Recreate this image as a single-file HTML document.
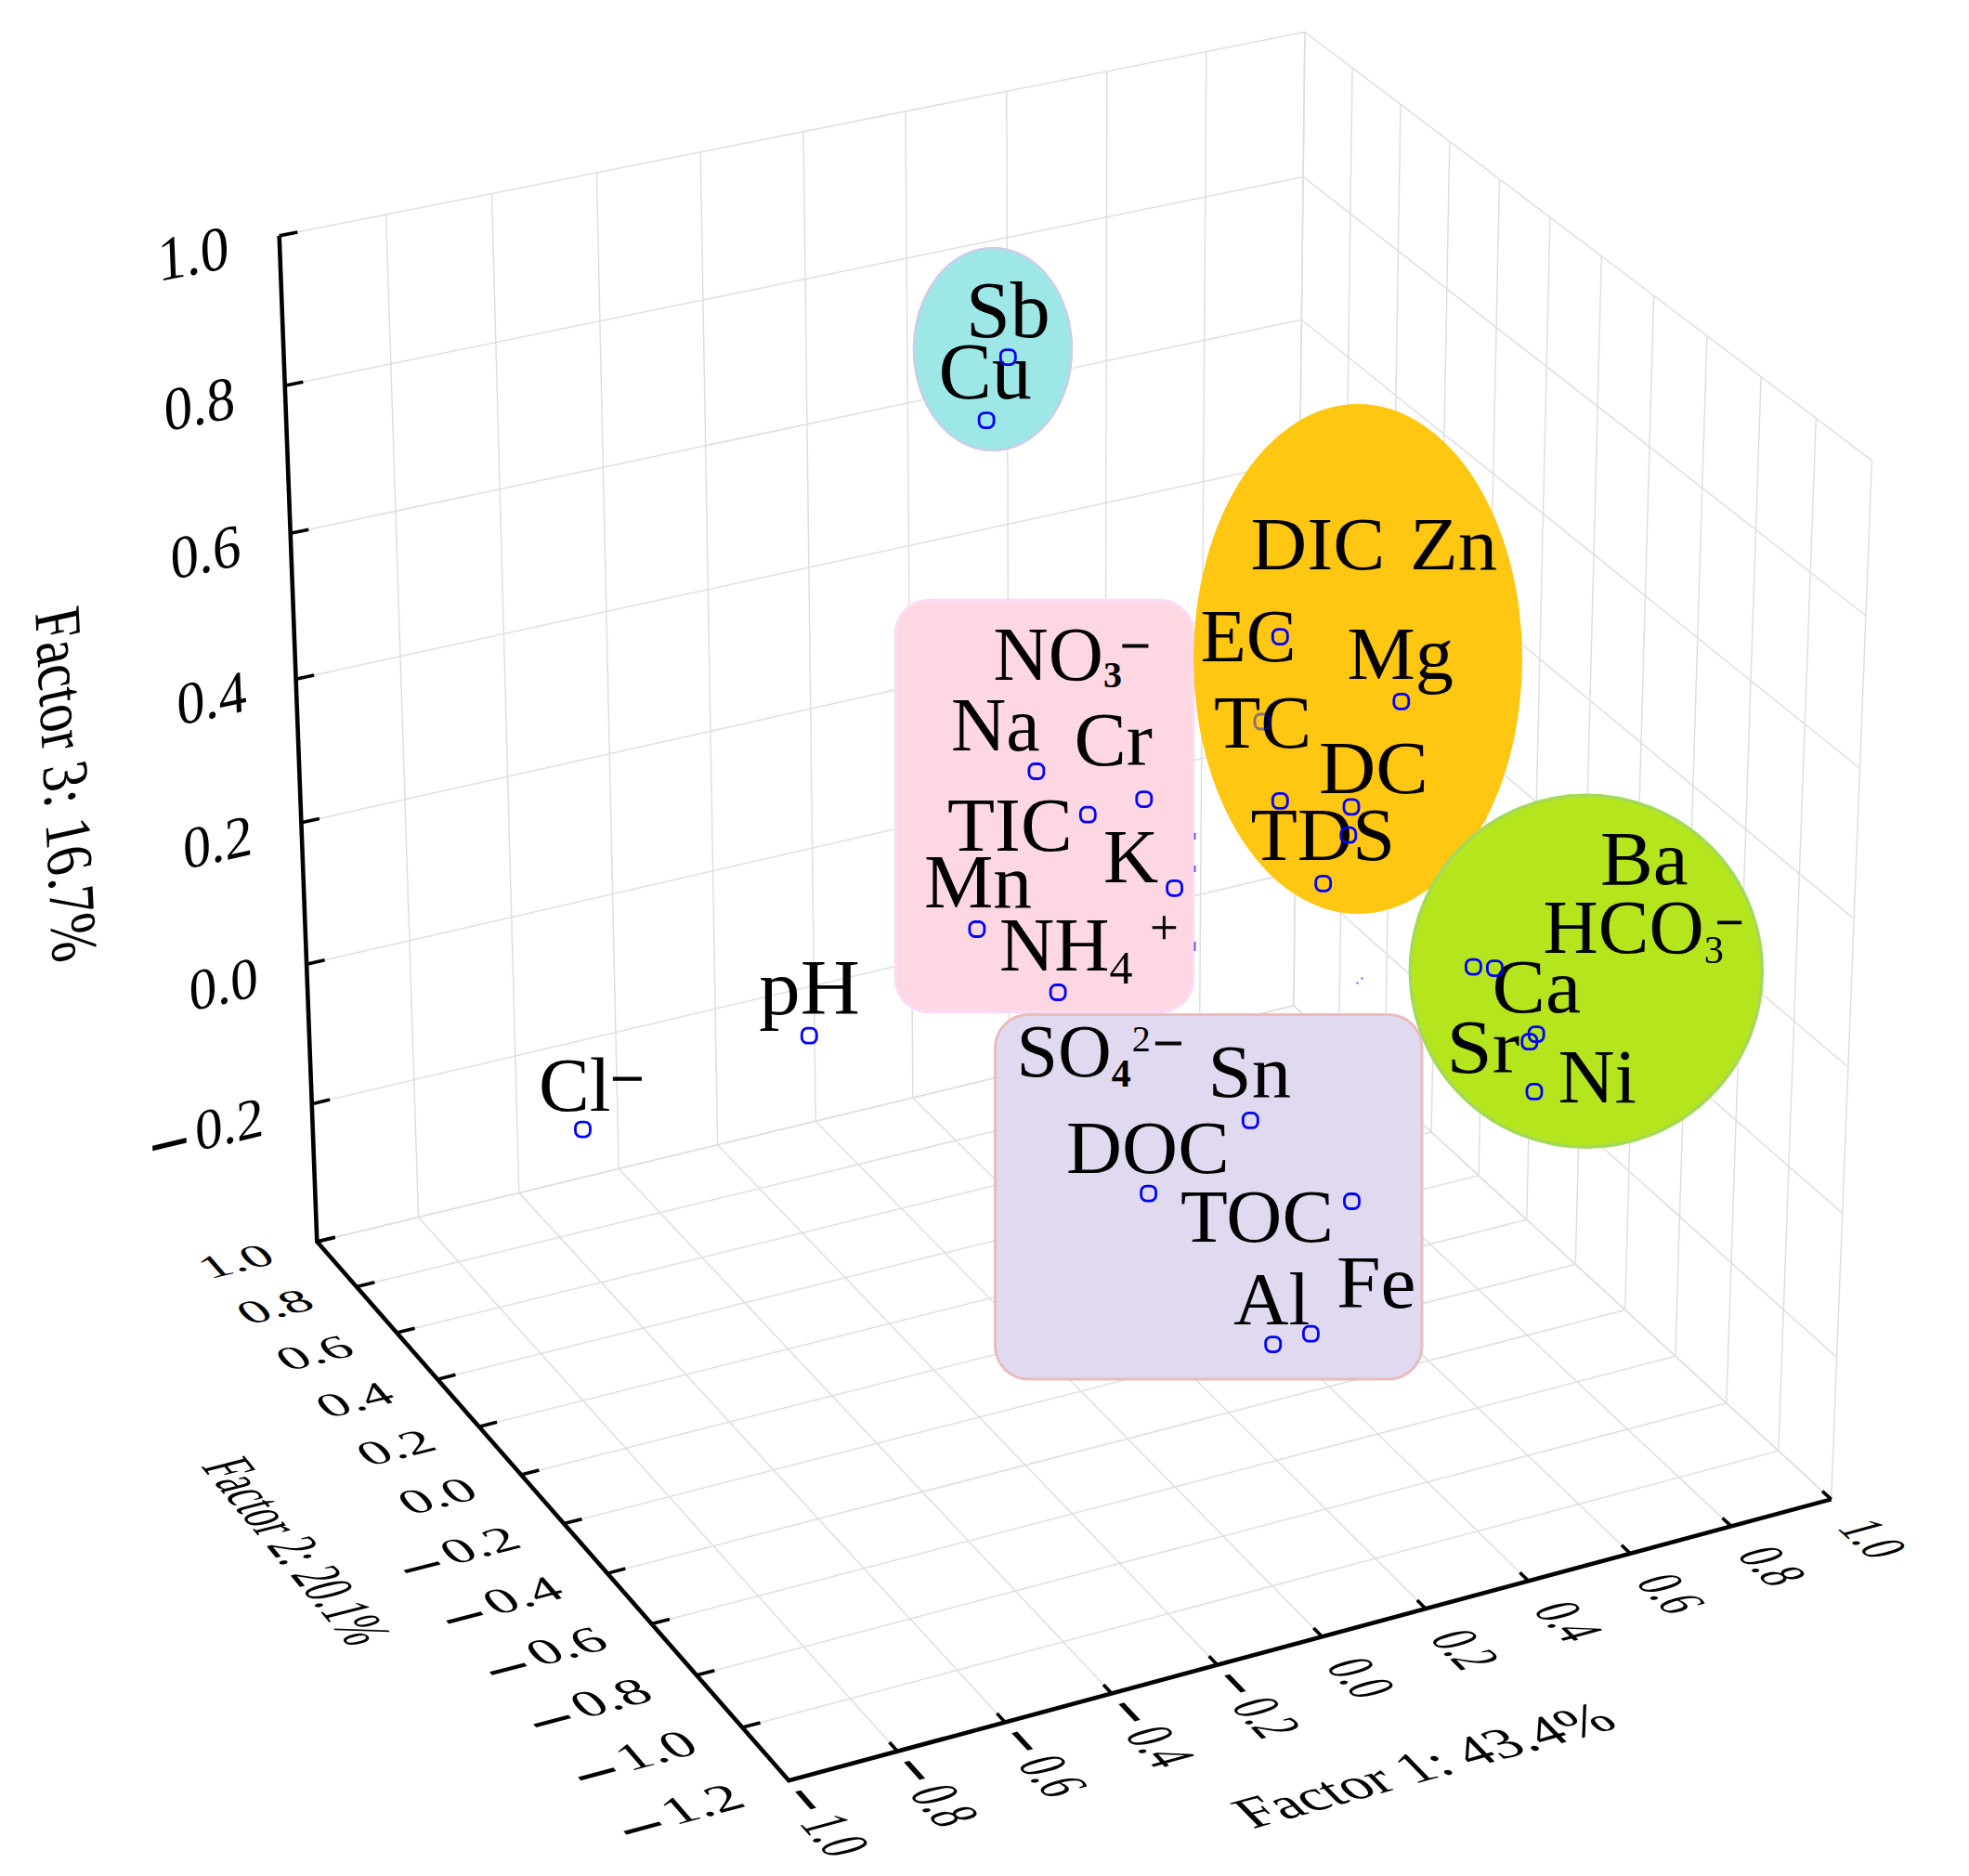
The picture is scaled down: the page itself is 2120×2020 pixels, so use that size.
<!DOCTYPE html>
<html><head><meta charset="utf-8"><title>Factor loadings 3D plot</title>
<style>
html,body{margin:0;padding:0;background:#fff}
svg{display:block}
.g{stroke:#dfdfdf;stroke-width:1.5;fill:none}
.ax{stroke:#000;stroke-width:4.6;fill:none;stroke-linejoin:miter}
.tk{stroke:#000;stroke-width:3.6}
.mk{fill:none;stroke:#0000ff;stroke-width:2.8}
text{font-family:"Liberation Serif","Times New Roman",serif;fill:#000}
.t3{font-size:100px}
.sg{stroke:#000;stroke-width:1.1}
.sp{stroke:#000;stroke-width:0.4}
</style></head><body>
<svg width="2120" height="2020" viewBox="0 0 2120 2020">
<rect width="2120" height="2020" fill="#fff"/>
<g class="grid">
<line class="g" x1="341.3" y1="1336.94" x2="300.69" y2="253.86"/>
<line class="g" x1="849.3" y1="1917.28" x2="341.3" y2="1336.94"/>
<line class="g" x1="450.52" y1="1310.54" x2="415.6" y2="231.03"/>
<line class="g" x1="966.28" y1="1885.71" x2="450.52" y2="1310.54"/>
<line class="g" x1="558.82" y1="1284.38" x2="529.48" y2="208.41"/>
<line class="g" x1="1082.17" y1="1854.43" x2="558.82" y2="1284.38"/>
<line class="g" x1="666.19" y1="1258.43" x2="642.34" y2="185.99"/>
<line class="g" x1="1196.99" y1="1823.44" x2="666.19" y2="1258.43"/>
<line class="g" x1="772.64" y1="1232.71" x2="754.19" y2="163.77"/>
<line class="g" x1="1310.73" y1="1792.74" x2="772.64" y2="1232.71"/>
<line class="g" x1="878.2" y1="1207.2" x2="865.05" y2="141.75"/>
<line class="g" x1="1423.43" y1="1762.32" x2="878.2" y2="1207.2"/>
<line class="g" x1="982.86" y1="1181.91" x2="974.93" y2="119.92"/>
<line class="g" x1="1535.09" y1="1732.18" x2="982.86" y2="1181.91"/>
<line class="g" x1="1086.65" y1="1156.83" x2="1083.84" y2="98.28"/>
<line class="g" x1="1645.73" y1="1702.32" x2="1086.65" y2="1156.83"/>
<line class="g" x1="1189.57" y1="1131.96" x2="1191.8" y2="76.84"/>
<line class="g" x1="1755.36" y1="1672.73" x2="1189.57" y2="1131.96"/>
<line class="g" x1="1291.64" y1="1107.29" x2="1298.81" y2="55.58"/>
<line class="g" x1="1864" y1="1643.41" x2="1291.64" y2="1107.29"/>
<line class="g" x1="1392.86" y1="1082.84" x2="1404.9" y2="34.5"/>
<line class="g" x1="1971.65" y1="1614.35" x2="1392.86" y2="1082.84"/>
<line class="g" x1="1971.65" y1="1614.35" x2="2015.46" y2="495.78"/>
<line class="g" x1="849.3" y1="1917.28" x2="1971.65" y2="1614.35"/>
<line class="g" x1="1914.81" y1="1562.15" x2="1955.26" y2="450.3"/>
<line class="g" x1="799.23" y1="1860.09" x2="1914.81" y2="1562.15"/>
<line class="g" x1="1858.87" y1="1510.78" x2="1896.07" y2="405.58"/>
<line class="g" x1="750" y1="1803.84" x2="1858.87" y2="1510.78"/>
<line class="g" x1="1803.81" y1="1460.22" x2="1837.87" y2="361.61"/>
<line class="g" x1="701.58" y1="1748.53" x2="1803.81" y2="1460.22"/>
<line class="g" x1="1749.62" y1="1410.46" x2="1780.62" y2="318.36"/>
<line class="g" x1="653.96" y1="1694.13" x2="1749.62" y2="1410.46"/>
<line class="g" x1="1696.27" y1="1361.47" x2="1724.31" y2="275.81"/>
<line class="g" x1="607.11" y1="1640.61" x2="1696.27" y2="1361.47"/>
<line class="g" x1="1643.75" y1="1313.23" x2="1668.92" y2="233.96"/>
<line class="g" x1="561.02" y1="1587.95" x2="1643.75" y2="1313.23"/>
<line class="g" x1="1592.03" y1="1265.74" x2="1614.41" y2="192.79"/>
<line class="g" x1="515.67" y1="1536.14" x2="1592.03" y2="1265.74"/>
<line class="g" x1="1541.1" y1="1218.97" x2="1560.78" y2="152.27"/>
<line class="g" x1="471.04" y1="1485.15" x2="1541.1" y2="1218.97"/>
<line class="g" x1="1490.94" y1="1172.91" x2="1508" y2="112.39"/>
<line class="g" x1="427.11" y1="1434.97" x2="1490.94" y2="1172.91"/>
<line class="g" x1="1441.53" y1="1127.53" x2="1456.04" y2="73.14"/>
<line class="g" x1="383.87" y1="1385.57" x2="1441.53" y2="1127.53"/>
<line class="g" x1="1392.86" y1="1082.84" x2="1404.9" y2="34.5"/>
<line class="g" x1="341.3" y1="1336.94" x2="1392.86" y2="1082.84"/>
<line class="g" x1="341.3" y1="1336.94" x2="1392.86" y2="1082.84"/>
<line class="g" x1="1392.86" y1="1082.84" x2="1971.65" y2="1614.35"/>
<line class="g" x1="335.74" y1="1188.64" x2="1394.51" y2="939.04"/>
<line class="g" x1="1394.51" y1="939.04" x2="1977.64" y2="1461.49"/>
<line class="g" x1="330.1" y1="1038.28" x2="1396.18" y2="793.32"/>
<line class="g" x1="1396.18" y1="793.32" x2="1983.71" y2="1306.4"/>
<line class="g" x1="324.38" y1="885.8" x2="1397.88" y2="645.64"/>
<line class="g" x1="1397.88" y1="645.64" x2="1989.88" y2="1149.04"/>
<line class="g" x1="318.58" y1="731.17" x2="1399.6" y2="495.96"/>
<line class="g" x1="1399.6" y1="495.96" x2="1996.13" y2="989.35"/>
<line class="g" x1="312.7" y1="574.34" x2="1401.34" y2="344.24"/>
<line class="g" x1="1401.34" y1="344.24" x2="2002.48" y2="827.27"/>
<line class="g" x1="306.74" y1="415.25" x2="1403.11" y2="190.43"/>
<line class="g" x1="1403.11" y1="190.43" x2="2008.92" y2="662.77"/>
<line class="g" x1="300.69" y1="253.86" x2="1404.9" y2="34.5"/>
<line class="g" x1="1404.9" y1="34.5" x2="2015.46" y2="495.78"/>
</g>
<g class="axes">
<polyline class="ax" points="300.69,253.86 341.3,1336.94 849.3,1917.28 1971.65,1614.35"/>
<line class="tk" x1="341.3" y1="1336.94" x2="360.74" y2="1332.24"/>
<line class="tk" x1="335.74" y1="1188.64" x2="355.2" y2="1184.05"/>
<line class="tk" x1="330.1" y1="1038.28" x2="349.59" y2="1033.8"/>
<line class="tk" x1="324.38" y1="885.8" x2="343.9" y2="881.44"/>
<line class="tk" x1="318.58" y1="731.17" x2="338.13" y2="726.92"/>
<line class="tk" x1="312.7" y1="574.34" x2="332.27" y2="570.2"/>
<line class="tk" x1="306.74" y1="415.25" x2="326.33" y2="411.23"/>
<line class="tk" x1="300.69" y1="253.86" x2="320.31" y2="249.97"/>
<line class="tk" x1="799.23" y1="1860.09" x2="818.55" y2="1854.93"/>
<line class="tk" x1="750" y1="1803.84" x2="769.34" y2="1798.73"/>
<line class="tk" x1="701.58" y1="1748.53" x2="720.93" y2="1743.47"/>
<line class="tk" x1="653.96" y1="1694.13" x2="673.32" y2="1689.11"/>
<line class="tk" x1="607.11" y1="1640.61" x2="626.49" y2="1635.64"/>
<line class="tk" x1="561.02" y1="1587.95" x2="580.41" y2="1583.03"/>
<line class="tk" x1="515.67" y1="1536.14" x2="535.07" y2="1531.27"/>
<line class="tk" x1="471.04" y1="1485.15" x2="490.44" y2="1480.33"/>
<line class="tk" x1="427.11" y1="1434.97" x2="446.53" y2="1430.19"/>
<line class="tk" x1="383.87" y1="1385.57" x2="403.3" y2="1380.83"/>
<line class="tk" x1="341.3" y1="1336.94" x2="360.74" y2="1332.24"/>
<line class="tk" x1="966.28" y1="1885.71" x2="957.61" y2="1876.03"/>
<line class="tk" x1="1082.17" y1="1854.43" x2="1073.38" y2="1844.85"/>
<line class="tk" x1="1196.99" y1="1823.44" x2="1188.08" y2="1813.96"/>
<line class="tk" x1="1310.73" y1="1792.74" x2="1301.72" y2="1783.36"/>
<line class="tk" x1="1423.43" y1="1762.32" x2="1414.32" y2="1753.05"/>
<line class="tk" x1="1535.09" y1="1732.18" x2="1525.88" y2="1723.01"/>
<line class="tk" x1="1645.73" y1="1702.32" x2="1636.42" y2="1693.24"/>
<line class="tk" x1="1755.36" y1="1672.73" x2="1745.96" y2="1663.75"/>
<line class="tk" x1="1864" y1="1643.41" x2="1854.51" y2="1634.52"/>
<line class="tk" x1="1971.65" y1="1614.35" x2="1962.08" y2="1605.56"/>
</g>
<text class="t3" text-anchor="end" transform="matrix(0.5880 -0.1386 0.0247 0.6176 284.55 1222.22)">0.2</text>
<text class="t3" text-anchor="start" stroke="#000" stroke-width="4.0" transform="matrix(0.7226 -0.1704 0.0283 0.6197 162.94 1257.57)">−</text>
<text class="t3" text-anchor="end" transform="matrix(0.5922 -0.1361 0.0250 0.6263 278.55 1071.93)">0.0</text>
<text class="t3" text-anchor="end" transform="matrix(0.5965 -0.1335 0.0254 0.6351 272.47 919.53)">0.2</text>
<text class="t3" text-anchor="end" transform="matrix(0.6009 -0.1307 0.0257 0.6442 266.30 764.97)">0.4</text>
<text class="t3" text-anchor="end" transform="matrix(0.6053 -0.1279 0.0261 0.6534 260.04 608.20)">0.6</text>
<text class="t3" text-anchor="end" transform="matrix(0.6099 -0.1251 0.0265 0.6628 253.69 449.18)">0.8</text>
<text class="t3" text-anchor="end" transform="matrix(0.6144 -0.1221 0.0269 0.6725 247.25 287.86)">1.0</text>
<text class="t3" text-anchor="middle" transform="matrix(0.0296 0.5902 -0.7051 0.1551 47.65 849.87)">Factor 3: 16.7%</text>
<text class="t3" text-anchor="end" transform="matrix(0.6328 -0.1708 0.3199 0.3696 805.67 1944.11)">1.2</text>
<text class="t3" text-anchor="start" stroke="#000" stroke-width="5.0" transform="matrix(0.7439 -0.2008 0.3145 0.3735 681.38 1986.44)">−</text>
<text class="t3" text-anchor="end" transform="matrix(0.6287 -0.1679 0.3145 0.3634 755.77 1886.46)">1.0</text>
<text class="t3" text-anchor="start" stroke="#000" stroke-width="5.0" transform="matrix(0.7391 -0.1974 0.3092 0.3671 632.24 1928.07)">−</text>
<text class="t3" text-anchor="end" transform="matrix(0.6246 -0.1651 0.3093 0.3574 706.71 1829.77)">0.8</text>
<text class="t3" text-anchor="start" stroke="#000" stroke-width="5.0" transform="matrix(0.7343 -0.1941 0.3040 0.3610 583.91 1870.69)">−</text>
<text class="t3" text-anchor="end" transform="matrix(0.6206 -0.1623 0.3042 0.3514 658.47 1774.03)">0.6</text>
<text class="t3" text-anchor="start" stroke="#000" stroke-width="5.0" transform="matrix(0.7295 -0.1908 0.2989 0.3550 536.40 1814.26)">−</text>
<text class="t3" text-anchor="end" transform="matrix(0.6167 -0.1597 0.2992 0.3457 611.02 1719.21)">0.4</text>
<text class="t3" text-anchor="start" stroke="#000" stroke-width="5.0" transform="matrix(0.7248 -0.1877 0.2940 0.3492 489.67 1758.78)">−</text>
<text class="t3" text-anchor="end" transform="matrix(0.6128 -0.1571 0.2943 0.3401 564.34 1665.28)">0.2</text>
<text class="t3" text-anchor="start" stroke="#000" stroke-width="5.0" transform="matrix(0.7202 -0.1846 0.2892 0.3435 443.72 1704.20)">−</text>
<text class="t3" text-anchor="end" transform="matrix(0.6090 -0.1545 0.2896 0.3346 518.42 1612.23)">0.0</text>
<text class="t3" text-anchor="end" transform="matrix(0.6051 -0.1520 0.2850 0.3292 473.24 1560.03)">0.2</text>
<text class="t3" text-anchor="end" transform="matrix(0.6014 -0.1496 0.2804 0.3240 428.79 1508.66)">0.4</text>
<text class="t3" text-anchor="end" transform="matrix(0.5977 -0.1472 0.2760 0.3189 385.03 1458.10)">0.6</text>
<text class="t3" text-anchor="end" transform="matrix(0.5940 -0.1449 0.2717 0.3139 341.96 1408.34)">0.8</text>
<text class="t3" text-anchor="end" transform="matrix(0.5903 -0.1427 0.2675 0.3091 299.56 1359.36)">1.0</text>
<text class="t3" text-anchor="middle" transform="matrix(0.2508 0.3046 -0.7070 0.1800 296.17 1676.12)">Factor 2: 20.1%</text>
<text class="t3" text-anchor="start" transform="matrix(0.2725 0.3113 -0.6847 0.1861 859.52 1962.85)">1.0</text>
<text class="t3" text-anchor="start" stroke="#000" stroke-width="4.0" transform="matrix(0.3294 0.3764 -0.6825 0.1845 835.53 1933.38)">−</text>
<text class="t3" text-anchor="start" transform="matrix(0.2765 0.3084 -0.6782 0.1844 977.24 1930.85)">0.8</text>
<text class="t3" text-anchor="start" stroke="#000" stroke-width="4.0" transform="matrix(0.3343 0.3728 -0.6761 0.1828 952.86 1901.65)">−</text>
<text class="t3" text-anchor="start" transform="matrix(0.2805 0.3055 -0.6719 0.1826 1093.85 1899.15)">0.6</text>
<text class="t3" text-anchor="start" stroke="#000" stroke-width="4.0" transform="matrix(0.3391 0.3694 -0.6697 0.1811 1069.09 1870.22)">−</text>
<text class="t3" text-anchor="start" transform="matrix(0.2843 0.3026 -0.6656 0.1809 1209.37 1867.75)">0.4</text>
<text class="t3" text-anchor="start" stroke="#000" stroke-width="4.0" transform="matrix(0.3438 0.3660 -0.6635 0.1794 1184.23 1839.09)">−</text>
<text class="t3" text-anchor="start" transform="matrix(0.2881 0.2998 -0.6594 0.1793 1323.80 1836.64)">0.2</text>
<text class="t3" text-anchor="start" stroke="#000" stroke-width="4.0" transform="matrix(0.3484 0.3626 -0.6574 0.1778 1298.30 1808.24)">−</text>
<text class="t3" text-anchor="start" transform="matrix(0.2908 0.2960 -0.6524 0.1770 1425.68 1794.05)">0.0</text>
<text class="t3" text-anchor="start" transform="matrix(0.2944 0.2933 -0.6464 0.1753 1537.86 1763.63)">0.2</text>
<text class="t3" text-anchor="start" transform="matrix(0.2979 0.2907 -0.6405 0.1737 1649.01 1733.48)">0.4</text>
<text class="t3" text-anchor="start" transform="matrix(0.3014 0.2880 -0.6347 0.1721 1759.14 1703.60)">0.6</text>
<text class="t3" text-anchor="start" transform="matrix(0.3047 0.2854 -0.6289 0.1706 1868.27 1674.00)">0.8</text>
<text class="t3" text-anchor="start" transform="matrix(0.3080 0.2829 -0.6232 0.1690 1976.42 1644.67)">1.0</text>
<text class="t3" text-anchor="middle" transform="matrix(0.6165 -0.1711 0.4030 0.4120 1546.58 1914.31)">Factor 1: 43.4%</text>
<ellipse cx="1069" cy="376" rx="85" ry="109" fill="#9de8e6" stroke="#c9cdea" stroke-width="2.5"/>
<rect x="964.5" y="646.5" width="320" height="443" rx="36" fill="#fdd7e2" stroke="#fcdaf3" stroke-width="3.5"/>
<ellipse cx="1462" cy="709.5" rx="177" ry="274.5" fill="#ffc612"/>
<circle cx="1707.8" cy="1045.8" r="189.5" fill="#b5e61d" stroke="#a3d95a" stroke-width="3.5"/>
<rect x="1071.5" y="1092.5" width="459.5" height="392.5" rx="36" fill="#e0d9f0" stroke="#eabcbd" stroke-width="3"/>
<text class="lb" x="1040" y="363" font-size="86">Sb</text>
<text class="lb" x="1010.5" y="429.4" font-size="86">Cu</text>
<text class="lb" x="1024" y="807.9" font-size="82">Na</text>
<text class="lb" transform="translate(1156.5 823.9) scale(1.03 1)" font-size="82">Cr</text>
<text class="lb" transform="translate(1020 915.8) scale(1.02 1)" font-size="82">TIC</text>
<text class="lb" x="1188" y="950.4" font-size="82">K</text>
<text class="lb" transform="translate(995 977.1) scale(1.02 1)" font-size="82">Mn</text>
<text class="lb" transform="translate(1346.5 613) scale(1.05 1)" font-size="80">DIC</text>
<text class="lb" transform="translate(1518 613) scale(1.06 1)" font-size="80">Zn</text>
<text class="lb" transform="translate(1292.5 712.2) scale(1.01 1)" font-size="80">EC</text>
<text class="lb" transform="translate(1450.5 731.3) scale(1.03 1)" font-size="80">Mg</text>
<text class="lb" transform="translate(1307 804.9) scale(1.03 1)" font-size="80">TC</text>
<text class="lb" transform="translate(1420 854.4) scale(1.06 1)" font-size="80">DC</text>
<text class="lb" transform="translate(1346.5 926.4) scale(1.03 1)" font-size="80">TDS</text>
<text class="lb" transform="translate(1723 952) scale(1.04 1)" font-size="82">Ba</text>
<text class="lb" transform="translate(1606.5 1089.7) scale(1.05 1)" font-size="82">Ca</text>
<text class="lb" transform="translate(1557.5 1154.6) scale(1.08 1)" font-size="82">Sr</text>
<text class="lb" transform="translate(1677.5 1187.1) scale(1.03 1)" font-size="82">Ni</text>
<text class="lb" transform="translate(1300.5 1180.5) scale(1.06 1)" font-size="80">Sn</text>
<text class="lb" transform="translate(1148 1263) scale(1.04 1)" font-size="80">DOC</text>
<text class="lb" transform="translate(1271 1336.6) scale(1.04 1)" font-size="80">TOC</text>
<text class="lb" transform="translate(1439 1407.7) scale(1.07 1)" font-size="80">Fe</text>
<text class="lb" transform="translate(1328 1425.5) scale(1.03 1)" font-size="80">Al</text>
<text class="lb" transform="translate(817.3 1092.2) scale(1.045 1)" font-size="85">pH</text>
<text class="lb" x="1069.5" y="731.9" font-size="82">NO<tspan font-size="40" font-weight="bold" dy="8">3</tspan></text><text class="sg" x="1206.1" y="715.4" font-size="58">−</text>
<text class="lb" x="1076" y="1045" font-size="82">NH<tspan font-size="50" dy="14">4</tspan></text><text class="sp" x="1238.3" y="1016.3" font-size="53.8">+</text>
<text class="lb" x="1661.5" y="1025.9" font-size="82">HCO<tspan font-size="42" dy="11">3</tspan></text><text class="sg" x="1846.8" y="1011.4" font-size="53.8">−</text>
<text class="lb" x="1094.5" y="1158.9" font-size="80">SO<tspan font-size="42" font-weight="bold" dy="11.5">4</tspan><tspan font-size="40" dy="-38" dx="1">2</tspan></text><text class="sg" x="1241.4" y="1142.6" font-size="58">−</text>
<text class="lb" x="580" y="1196.2" font-size="82">Cl</text><text class="sg" x="657.3" y="1182.7" font-size="64.5">−</text>
<rect class="mk" x="1077.3" y="376.6" width="16" height="16" rx="6"/>
<rect class="mk" x="1054.1" y="444.6" width="16" height="16" rx="6"/>
<rect class="mk" x="1107.9" y="822.5" width="16" height="16" rx="6"/>
<rect class="mk" x="1223.8" y="852.6" width="16" height="16" rx="6"/>
<rect class="mk" x="1163.3" y="869.2" width="16" height="16" rx="6"/>
<rect class="mk" x="1256.6" y="948.3" width="16" height="16" rx="6"/>
<rect class="mk" x="1043.9" y="992.5" width="16" height="16" rx="6"/>
<rect class="mk" x="1131.1" y="1060.5" width="16" height="16" rx="6"/>
<rect class="mk" x="1370.3" y="677.6" width="16" height="16" rx="6"/>
<rect class="mk" x="1500.8" y="747.3" width="16" height="16" rx="6"/>
<rect class="mk" x="1370.3" y="854.4" width="16" height="16" rx="6"/>
<rect class="mk" x="1447" y="860.8" width="16" height="16" rx="6"/>
<rect class="mk" x="1443.8" y="891.2" width="16" height="16" rx="6"/>
<rect class="mk" x="1416.7" y="943.3" width="16" height="16" rx="6"/>
<rect class="mk" x="1578.4" y="1033.1" width="16" height="16" rx="6"/>
<rect class="mk" x="1601.4" y="1034.6" width="16" height="16" rx="6"/>
<rect class="mk" x="1646.2" y="1105.6" width="16" height="16" rx="6"/>
<rect class="mk" x="1638.8" y="1113.7" width="16" height="16" rx="6"/>
<rect class="mk" x="1644" y="1167.4" width="16" height="16" rx="6"/>
<rect class="mk" x="1338.3" y="1198.4" width="16" height="16" rx="6"/>
<rect class="mk" x="1228.6" y="1277.1" width="16" height="16" rx="6"/>
<rect class="mk" x="1447.5" y="1285.5" width="16" height="16" rx="6"/>
<rect class="mk" x="1403.4" y="1428.2" width="16" height="16" rx="6"/>
<rect class="mk" x="1362.7" y="1439.6" width="16" height="16" rx="6"/>
<rect class="mk" x="863.3" y="1107.2" width="16" height="16" rx="6"/>
<rect class="mk" x="619.5" y="1208.1" width="16" height="16" rx="6"/>
<g fill="#5b5bff"><rect x="1285.5" y="897" width="2" height="7"/><rect x="1285.5" y="932" width="2" height="7"/><rect x="1285.5" y="1014" width="2" height="10"/><rect x="1465.5" y="1052.5" width="2" height="2"/><rect x="1460.5" y="1057.5" width="2" height="2"/></g>
<rect class="mk" x="1351" y="769" width="16" height="16" rx="6" opacity="0.45"/>
</svg>
</body></html>
